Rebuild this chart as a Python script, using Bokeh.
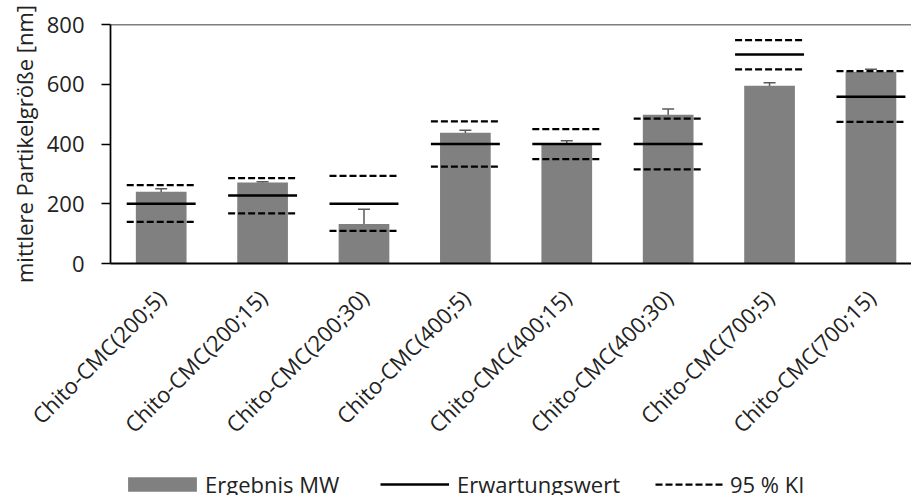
import math
from bokeh.plotting import figure
from bokeh.layouts import column
from bokeh.models import (ColumnDataSource, Whisker, TeeHead, Span, Legend, LegendItem,
                          FixedTicker, Range1d)
from bokeh.embed import file_html
from bokeh.resources import INLINE

# ---------------- data ----------------
categories = ["Chito-CMC(200;5)", "Chito-CMC(200;15)", "Chito-CMC(200;30)",
              "Chito-CMC(400;5)", "Chito-CMC(400;15)", "Chito-CMC(400;30)",
              "Chito-CMC(700;5)", "Chito-CMC(700;15)"]
mean_values = [240, 271, 132, 438, 402, 498, 595, 642]
mean_errors = [10, 3, 50, 8, 9, 19, 10, 8]
expected_values = [200, 228, 200, 400, 400, 400, 700, 558]
ci_lower = [139, 168, 109, 324, 349, 315, 650, 474]
ci_upper = [262, 286, 293, 476, 450, 485, 748, 644]
y_ticks = [0, 200, 400, 600, 800]
y_max = 800
legend_labels = ["Ergebnis MW", "Erwartungswert", "95 % KI"]

# ---------------- style ----------------
FONT = "Open Sans"
FS = "22px"
TEXT_COLOR = "#222222"
BAR_COLOR = "#808080"
ERR_COLOR = "#5a5a5a"
BAR_WIDTH = 0.5
LINE_HALF = 0.34
DASH = "7 3"
LEFT = 110

n = len(categories)
xs = [i + 0.5 for i in range(n)]

src = ColumnDataSource(dict(
    x=xs,
    mean=mean_values,
    lo=[m - e for m, e in zip(mean_values, mean_errors)],
    hi=[m + e for m, e in zip(mean_values, mean_errors)],
    exp=expected_values,
    cil=ci_lower,
    ciu=ci_upper,
    x0=[x - LINE_HALF for x in xs],
    x1=[x + LINE_HALF for x in xs],
))


def draw_series(fig):
    b = fig.vbar(x="x", top="mean", width=BAR_WIDTH, source=src,
                 fill_color=BAR_COLOR, line_color=None)
    e = fig.segment(x0="x0", x1="x1", y0="exp", y1="exp", source=src,
                    line_color="black", line_width=2.5)
    c = fig.segment(x0="x0", x1="x1", y0="ciu", y1="ciu", source=src,
                    line_color="black", line_width=2.25, line_dash=DASH)
    return b, e, c


p = figure(width=911, height=455,
           x_range=Range1d(0, 7.9), y_range=Range1d(0, y_max),
           output_backend="svg", toolbar_location=None,
           min_border_left=LEFT, min_border_right=0,
           min_border_top=24, min_border_bottom=192)
p.outline_line_color = None
p.xgrid.visible = False
p.ygrid.visible = False

draw_series(p)
p.segment(x0="x0", x1="x1", y0="cil", y1="cil", source=src,
          line_color="black", line_width=2.25, line_dash=DASH)

err = Whisker(base="x", lower="lo", upper="hi", source=src,
              line_color=ERR_COLOR, line_width=1.5,
              upper_head=TeeHead(size=12, line_color=ERR_COLOR, line_width=1.5),
              lower_head=TeeHead(size=12, line_color=ERR_COLOR, line_width=1.5))
p.add_layout(err)

p.add_layout(Span(location=y_max, dimension="width", line_color="black", line_width=1.5))

# y axis
ya = p.yaxis[0]
ya.ticker = FixedTicker(ticks=y_ticks)
ya.axis_line_width = 1.75
ya.axis_line_color = "black"
ya.major_tick_line_width = 1.5
ya.major_tick_line_color = "black"
ya.major_tick_out = 9
ya.major_tick_in = 0
ya.minor_tick_line_color = None
ya.major_label_text_font = FONT
ya.major_label_text_font_size = FS
ya.major_label_text_color = TEXT_COLOR
ya.major_label_standoff = 17
ya.axis_label = "mittlere Partikelgröße [nm]"
ya.axis_label_text_font = FONT
ya.axis_label_text_font_size = FS
ya.axis_label_text_font_style = "normal"
ya.axis_label_text_color = TEXT_COLOR
ya.axis_label_standoff = 5

# x axis
xa = p.xaxis[0]
xa.ticker = FixedTicker(ticks=xs)
xa.major_label_overrides = {x: c for x, c in zip(xs, categories)}
xa.major_label_orientation = math.pi / 4
xa.axis_line_width = 2
xa.axis_line_color = "black"
xa.major_tick_line_color = None
xa.minor_tick_line_color = None
xa.major_label_text_font = FONT
xa.major_label_text_font_size = FS
xa.major_label_text_color = TEXT_COLOR
xa.major_label_standoff = 24

# ---------------- legend strip ----------------
pl = figure(width=911, height=40, x_range=Range1d(-100, -99), y_range=Range1d(-100, -99),
            output_backend="svg", toolbar_location=None,
            x_axis_type=None, y_axis_type=None,
            min_border_left=LEFT, min_border_right=0, min_border_top=17, min_border_bottom=0)
pl.outline_line_color = None
pl.xgrid.visible = False
pl.ygrid.visible = False

legend_renderers = draw_series(pl)

# (label, renderer, left edge of legend box, glyph width, glyph height, label standoff)
# Bokeh insets area glyphs by 10 % on each side, so the bar patch box is enlarged.
legend_layout = [(119, 86, 18, 0), (380, 69, 14, 8), (655, 68, 14, 7)]
for label, rend, (gx, gw, gh, so) in zip(legend_labels, legend_renderers, legend_layout):
    leg = Legend(items=[LegendItem(label=label, renderers=[rend])],
                 location="left", orientation="horizontal",
                 padding=0, margin=gx - LEFT, spacing=0,
                 glyph_width=gw, glyph_height=gh, label_height=14, label_standoff=so,
                 label_text_font=FONT, label_text_font_size=FS,
                 label_text_color=TEXT_COLOR,
                 border_line_color=None, background_fill_alpha=0)
    pl.add_layout(leg, "center")

layout = column(p, pl, spacing=0)
open("out.html", "w").write(file_html(layout, INLINE))
